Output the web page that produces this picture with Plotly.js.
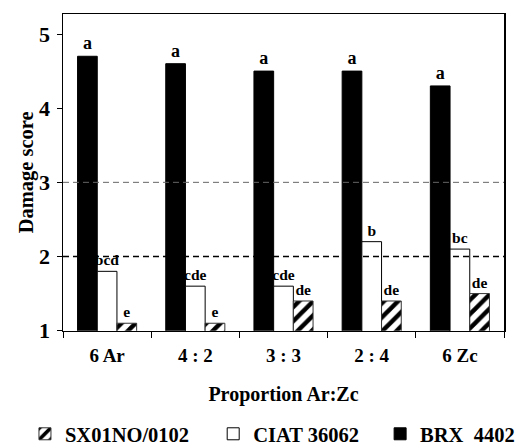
<!DOCTYPE html>
<html>
<head>
<meta charset="utf-8">
<script src="https://cdn.plot.ly/plotly-3.0.1.min.js"></script>
<style>html,body{margin:0;padding:0;background:#fff;}#chart{width:520px;height:446px;}</style>
</head>
<body>
<div id="chart"></div>
<script>
var categories = ['6 Ar', '4 : 2', '3 : 3', '2 : 4', '6 Zc'];
var brxValues = [4.7, 4.6, 4.5, 4.5, 4.3];
var ciatValues = [1.8, 1.6, 1.6, 2.2, 2.1];
var sxValues = [1.1, 1.1, 1.4, 1.4, 1.5];
var brxLetters = ['a', 'a', 'a', 'a', 'a'];
var ciatLetters = ['bcd', 'cde', 'cde', 'b', 'bc'];
var sxLetters = ['e', 'e', 'de', 'de', 'de'];
var refLines = [2, 3];
var yTicks = [1, 2, 3, 4, 5];

var FONT = 'Liberation Serif';
function bold(size) { return {family: FONT, size: size, color: '#000', weight: 'bold'}; }

var base = {type: 'bar', textposition: 'outside', cliponaxis: false, constraintext: 'none', hoverinfo: 'skip'};

var traces = [
  Object.assign({}, base, {name: 'BRX  4402', legend: 'legend3', x: categories, y: brxValues, text: brxLetters, textfont: bold(18),
    marker: {color: '#000', line: {color: '#000', width: 1}}}),
  Object.assign({}, base, {name: 'CIAT 36062', legend: 'legend2', x: categories, y: ciatValues, text: ciatLetters, textfont: bold(15.5),
    marker: {color: '#fff', line: {color: '#000', width: 1}}}),
  Object.assign({}, base, {name: 'SX01NO/0102', legend: 'legend', x: categories, y: sxValues, text: sxLetters, textfont: bold(15.5),
    marker: {color: '#fff', line: {color: '#333', width: 1},
      pattern: {shape: '/', fgcolor: '#000', bgcolor: '#fff', size: 10, solidity: 0.45}}})
];

var shapes = refLines.map(function (v, i) {
  return {type: 'line', xref: 'paper', x0: 0, x1: 1, yref: 'y', y0: v, y1: v, layer: 'above',
    line: {color: i === 0 ? '#000' : '#666', width: i === 0 ? 1.4 : 1, dash: '6px,4px'}};
});

function leg(x) {
  return {orientation: 'h', xref: 'container', yref: 'container', x: x, xanchor: 'left',
    y: 0.027, yanchor: 'middle', font: bold(20.5), itemwidth: 30};
}

var layout = {
  width: 520, height: 446,
  margin: {l: 63, r: 16, t: 14, b: 112},
  paper_bgcolor: '#fff', plot_bgcolor: '#fff',
  font: {family: FONT, color: '#000'},
  barmode: 'group', bargap: 0.33, bargroupgap: 0,
  showlegend: true,
  legend: leg(0.048), legend2: leg(0.41), legend3: leg(0.731),
  xaxis: {
    type: 'category', tickson: 'boundaries', ticks: 'outside', ticklen: 6, tickcolor: '#000',
    showline: true, linecolor: '#000', linewidth: 1.5, mirror: true, showgrid: false,
    tickfont: bold(19), ticklabelstandoff: 7, automargin: true,
    title: {text: 'Proportion Ar:Zc', font: bold(20), standoff: 22}
  },
  yaxis: {
    range: [1, 5.27], tickvals: yTicks, ticks: 'outside', ticklen: 5, tickcolor: '#000',
    showline: true, linecolor: '#000', linewidth: 1.5, mirror: true, showgrid: false, zeroline: false,
    tickfont: bold(22), ticklabelstandoff: 2,
    title: {text: 'Damage score', font: bold(20.5), standoff: 0}
  },
  shapes: shapes
};

Plotly.newPlot('chart', traces, layout, {staticPlot: true, displayModeBar: false});
</script>
</body>
</html>
